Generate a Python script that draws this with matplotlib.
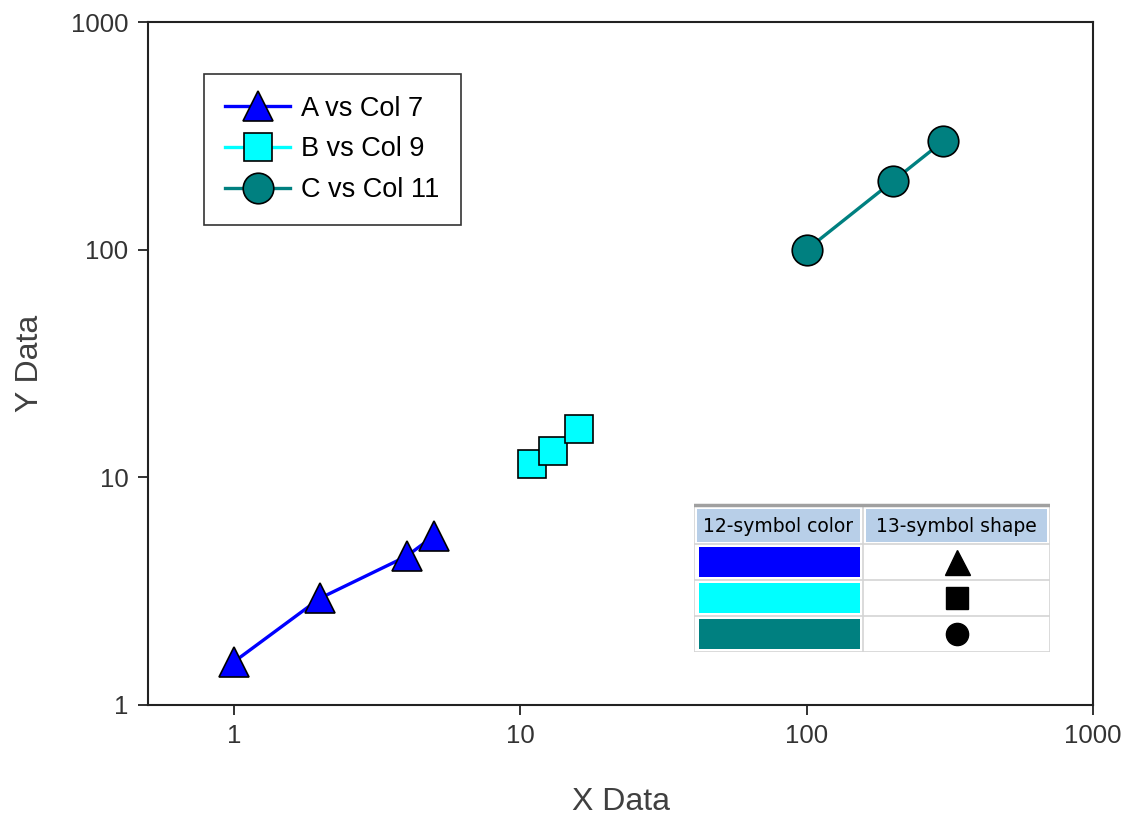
import numpy as np
import matplotlib
matplotlib.use('Agg')
import matplotlib.pyplot as plt
from matplotlib.ticker import FixedLocator, FixedFormatter, NullLocator
from matplotlib.patches import Rectangle

plt.rcParams['font.family'] = ['Liberation Sans', 'DejaVu Sans']

# data
a_x = [1, 2, 4, 5]
a_y = [1.55, 2.95, 4.5, 5.55]
b_x = [11, 13, 16]
b_y = [11.5, 13.1, 16.3]
c_x = [100, 200, 300]
c_y = [100, 200, 300]

series_names = ['A vs Col 7', 'B vs Col 9', 'C vs Col 11']
series_colors = ['#0000FF', '#00FFFF', '#008080']
series_markers = ['^', 's', 'o']
marker_sizes = [22, 20, 22]

tick_vals = [1, 10, 100, 1000]
tick_labels = ['1', '10', '100', '1000']

table_header = ['12-symbol color', '13-symbol shape']

fig = plt.figure(figsize=(11.28, 8.16), dpi=100)
ax = fig.add_axes([148/1128, 1-705/816, 945/1128, 683/816])

for (xs, ys), name, col, mk, ms in zip([(a_x, a_y), (b_x, b_y), (c_x, c_y)],
                                       series_names, series_colors, series_markers, marker_sizes):
    ax.plot(xs, ys, color=col, lw=2.4, marker=mk, markersize=ms,
            markerfacecolor=col, markeredgecolor='black', markeredgewidth=1.2, label=name)

ax.set_xscale('log')
ax.set_yscale('log')
ax.set_xlim(0.5, 1000)
ax.set_ylim(1, 1000)
for axis in (ax.xaxis, ax.yaxis):
    axis.set_major_locator(FixedLocator(tick_vals))
    axis.set_major_formatter(FixedFormatter(tick_labels))
    axis.set_minor_locator(NullLocator())
ax.tick_params(axis='both', which='major', direction='out', length=7, width=1.3,
               pad=7, labelsize=18.5, labelcolor='#333333', color='#222222')
for s in ax.spines.values():
    s.set_linewidth(1.5)
    s.set_color('#222222')

ax.set_xlabel('X Data', fontsize=23, color='#404040', labelpad=28)
ax.set_ylabel('Y Data', fontsize=23, color='#404040', labelpad=19)

leg = ax.legend(loc='upper left', bbox_to_anchor=(0.059, 0.924), fontsize=19.5,
                frameon=True, fancybox=False, edgecolor='black', handlelength=2.4,
                labelspacing=0.55, borderpad=0.8, handletextpad=0.4, borderaxespad=0)
leg.get_frame().set_linewidth(1.2)

# inset table
tab = fig.add_axes([694/1128, 1-652/816, 356/1128, 149/816])
tab.set_xlim(0, 356)
tab.set_ylim(149, 0)
tab.axis('off')
col_x = [0, 169, 356]
row_y = [4, 41, 77, 113, 149]
# grid
for y in row_y[1:]:
    tab.plot([0, 356], [y, y], color='#D4D4D4', lw=1.2)
for x in col_x:
    tab.plot([x, x], [4, 149], color='#D4D4D4', lw=1.2)
tab.plot([0, 356], [2, 2], color='#A0A0A0', lw=2.5)
# header
for i, txt in enumerate(table_header):
    x0, x1 = col_x[i], col_x[i+1]
    tab.add_patch(Rectangle((x0+3, 6), x1-x0-6, 33, facecolor='#B8CFE8', edgecolor='none'))
    tab.text((x0+x1)/2, 23, txt, ha='center', va='center', fontsize=13.5,
             family='DejaVu Sans', color='black')
for r, (col, mk) in enumerate(zip(series_colors, series_markers)):
    y0, y1 = row_y[r+1], row_y[r+2]
    tab.add_patch(Rectangle((5, y0+3), col_x[1]-8, y1-y0-6, facecolor=col, edgecolor='none'))
    tab.plot([(col_x[1]+col_x[2])/2], [(y0+y1)/2], marker=mk, color='black',
             markersize=18 if mk == '^' else 16, linestyle='none')

fig.savefig('out.png', dpi=100)
